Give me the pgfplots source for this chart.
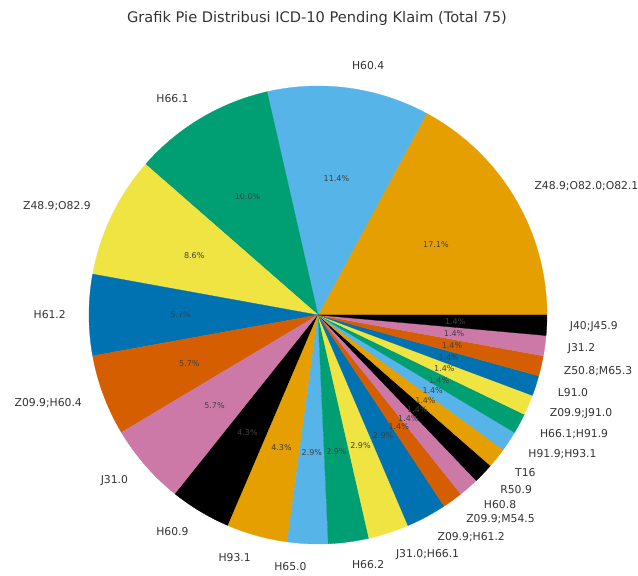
\documentclass[border=0pt]{standalone}
\usepackage{fontspec}
\setmainfont{DejaVu Sans}
\usepackage{pgfplots}
\usepackage{pgfplotstable}
\pgfplotsset{compat=1.18}

% Okabe-Ito palette
\definecolor{okOrange}{HTML}{E69F00}
\definecolor{okSky}{HTML}{56B4E9}
\definecolor{okGreen}{HTML}{009E73}
\definecolor{okYellow}{HTML}{F0E442}
\definecolor{okBlue}{HTML}{0072B2}
\definecolor{okVerm}{HTML}{D55E00}
\definecolor{okPink}{HTML}{CC79A7}
\definecolor{okBlack}{HTML}{000000}

\pgfplotstableread[col sep=comma]{
label,count,color
Z48.9;O82.0;O82.1,12,okOrange
H60.4,8,okSky
H66.1,7,okGreen
Z48.9;O82.9,6,okYellow
H61.2,4,okBlue
Z09.9;H60.4,4,okVerm
J31.0,4,okPink
H60.9,3,okBlack
H93.1,3,okOrange
H65.0,2,okSky
H66.2,2,okGreen
J31.0;H66.1,2,okYellow
Z09.9;H61.2,2,okBlue
Z09.9;M54.5,1,okVerm
H60.8,1,okPink
R50.9,1,okBlack
T16,1,okOrange
H91.9;H93.1,1,okSky
H66.1;H91.9,1,okGreen
Z09.9;J91.0,1,okYellow
L91.0,1,okBlue
Z50.8;M65.3,1,okVerm
J31.2,1,okPink
J40;J45.9,1,okBlack
}\piedata

\newcommand\lblfont{\fontsize{10.8}{12}\selectfont}
\newcommand\pctfont{\fontsize{8}{9}\selectfont}
\newcommand\cx{318}
\newcommand\cy{261}

\begin{document}
\begin{tikzpicture}
\useasboundingbox (0,0) rectangle (638pt,576pt);
\begin{axis}[
    hide axis,
    x=1pt, y=1pt,
    xmin=0, xmax=638,
    ymin=0, ymax=576,
    at={(0,0)}, anchor=origin,
    clip=false,
]
\pgfplotsextra{
  \pgfplotstablegetrowsof{\piedata}
  \pgfmathtruncatemacro\nlast{\pgfplotsretval-1}
  % total count
  \gdef\tot{0}
  \foreach \i in {0,...,\nlast}{
    \pgfplotstablegetelem{\i}{count}\of\piedata
    \pgfmathsetmacro\tmp{\tot+\pgfplotsretval}
    \global\let\tot\tmp
  }
  % wedges
  \gdef\cum{0}
  \foreach \i in {0,...,\nlast}{
    \pgfplotstablegetelem{\i}{count}\of\piedata
    \let\n\pgfplotsretval
    \pgfplotstablegetelem{\i}{color}\of\piedata
    \let\col\pgfplotsretval
    \pgfmathsetmacro\angA{\cum/\tot*360}
    \pgfmathsetmacro\angB{(\cum+\n)/\tot*360}
    \fill[color=\col, draw=\col, line width=0.3pt] (axis cs:\cx,\cy) -- ++(\angA:229pt)
      arc[start angle=\angA, end angle=\angB, radius=229pt] -- cycle;
    \pgfmathsetmacro\tmp{\cum+\n}
    \global\let\cum\tmp
  }
  % labels and percentages
  \gdef\cum{0}
  \foreach \i in {0,...,\nlast}{
    \pgfplotstablegetelem{\i}{count}\of\piedata
    \let\n\pgfplotsretval
    \pgfplotstablegetelem{\i}{label}\of\piedata
    \let\lab\pgfplotsretval
    \pgfmathsetmacro\angM{(\cum+\n/2)/\tot*360}
    \pgfmathtruncatemacro\isright{cos(\angM)>0}
    \ifnum\isright=1 \def\anc{west}\else\def\anc{east}\fi
    \path (axis cs:\cx,\cy) ++(\angM:252pt)
      node[anchor=\anc, inner sep=0pt, font=\lblfont, text=black!80] {\lab};
    \pgfmathsetmacro\pct{\n/\tot*100}
    \path (axis cs:\cx,\cy) ++(\angM:137.4pt)
      node[inner sep=0pt, font=\pctfont, text=black!75]
      {\pgfmathprintnumber[fixed,fixed zerofill,precision=1,assume math mode=true]{\pct}\%};
    \pgfmathsetmacro\tmp{\cum+\n}
    \global\let\cum\tmp
  }
  \node[font=\fontsize{14.6}{16}\selectfont, text=black!80] at (axis cs:317,558)
    {Grafik Pie Distribusi ICD-10 Pending Klaim (Total 75)};
}
\end{axis}
\end{tikzpicture}
\end{document}
